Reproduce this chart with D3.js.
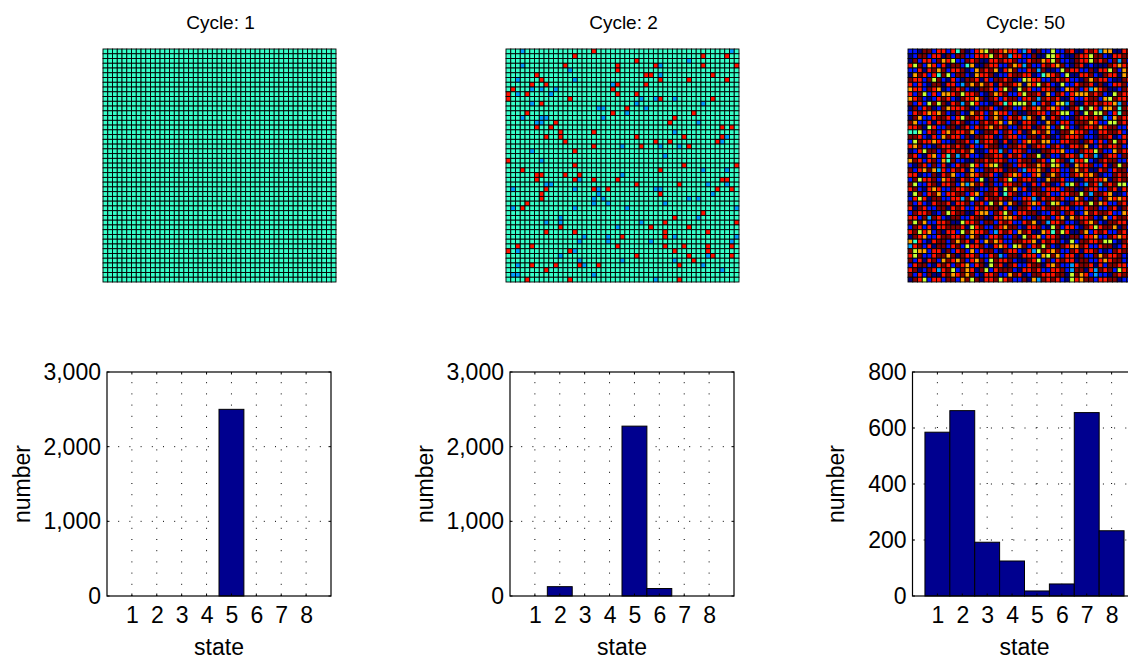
<!DOCTYPE html>
<html>
<head>
<meta charset="utf-8">
<script src="https://cdn.jsdelivr.net/npm/d3@7"></script>
<style>
  html, body { margin: 0; padding: 0; background: #fff; overflow: hidden; }
  text { font-family: "Liberation Sans", Arial, sans-serif; fill: #000; }
</style>
</head>
<body>
<svg id="chart" width="1128" height="657"></svg>
<script>
const states = [1, 2, 3, 4, 5, 6, 7, 8];
const cycles = [1, 2, 50];

// histogram counts for each cycle
const counts1 = [0, 0, 0, 0, 2500, 0, 0, 0];
const counts2 = [0, 125, 0, 0, 2275, 100, 0, 0];
const counts50 = [585, 662, 192, 125, 18, 43, 655, 233];

const yTicks1 = [0, 1000, 2000, 3000];
const yTicks2 = [0, 1000, 2000, 3000];
const yTicks50 = [0, 200, 400, 600, 800];

// state colours (jet, flipped)
const stateColors = ["#800000", "#ff1200", "#ffa300", "#c9ff36", "#36ffc9", "#00a0ff", "#0012ff", "#000080"];

const gridSize = 49;

// cycle 2: columns per row where the lattice has left state 5
const cycle2State2 = [
  [18], [14, 41, 46], [27], [12, 23, 31, 41, 48], [23], [6, 29, 30, 43], [7, 32, 38, 46], [5, 8, 23, 29],
  [1, 22], [0, 4, 23, 27], [0, 13, 32, 43], [7], [25], [4, 22, 39], [35], [10, 34],
  [6, 9, 45, 47], [11, 18], [8, 11, 27, 37, 45], [12, 31, 34, 44], [18, 28, 38], [14], [], [0],
  [14, 37, 48], [3, 32], [6, 7, 12, 15], [6, 14, 18, 23, 45, 46], [27, 36], [8, 18, 21, 44, 47], [7, 32], [7],
  [4], [3], [41], [35], [33, 48], [11, 30, 38], [8, 14, 33, 42], [24, 33], [], [2, 5, 23, 33, 37, 42, 47],
  [0, 13, 35, 42], [27, 38, 43, 47], [39], [5, 10, 15, 19, 36], [8], [], [4, 13, 36]
];
const cycle2State6 = [
  [3, 47], [], [38], [3, 32], [13], [32], [2, 14], [22],
  [5, 7, 10], [2, 9], [28, 31, 35], [5, 27, 41], [19, 20, 29], [25], [3, 7, 8, 20], [6, 7, 40],
  [], [35], [46], [45], [24, 32, 36], [5], [33], [7],
  [], [41, 46], [24], [15], [8, 9, 42, 46], [1, 14, 19, 31, 32], [19, 43], [18, 20, 38, 40],
  [18, 21, 33], [1, 14, 25, 48], [], [11, 40], [8, 11, 28], [23], [], [16, 21, 35, 48],
  [15, 21, 30, 47], [], [2, 14], [11, 42], [15, 24, 35], [2, 16, 41], [45], [1, 2, 18], [31]
];

// cycle 50: one string per row, one digit per cell
const cycle50Rows = [
  "7781172272 5187234112 3227628177 4771288212 633882117",
  "8711722817 1177222412 1622771884 4278812241 178221177",
  "8172271324 7712188221 2217721132 4177812241 217161772",
  "2417327281 1753881227 7132617721 2317812878 881232112",
  "7728213172 2187312138 2317721618 8741227718 224173172",
  "8312725147 1178322187 7211228753 2174882217 812283172",
  "1227141782 7811282711 2187432277 1212778131 227881212",
  "2727811822 7613131282 1123832412 7847721128 187221781",
  "3227123871 2178811272 4184127722 1873217263 218871227",
  "2714727332 1422178132 1772411283 7127233312 178412271",
  "3217872127 8122318127 2117221612 1288277211 734122178",
  "1727414182 1614277812 5244416721 7346188212 122361787",
  "8172187132 2218711278 1177212312 3278125142 733151228",
  "7212323178 1783127132 2718811227 1244718414 417251182",
  "8137721127 2411227131 7212631838 2177812212 167312218",
  "1377282171 2187712123 7318221783 1722711132 774412187",
  "2218427711 8127212312 1771228123 7142781221 321177282",
  "5547217231 2213781127 1272813213 7811322178 221127812",
  "1127827312 2718112287 1227711821 8712221778 112872117",
  "7412232778 1127612218 2817232133 7722118127 271412872",
  "2317781221 2182772118 7112281227 1278221387 212217781",
  "8724117122 1213887226 1722178811 2237781224 177312281",
  "1278237251 6127781122 8212711481 7712216216 812271127",
  "3127217351 7788112122 1772118127 4218622478 121177281",
  "7812717287 2114272341 8172211321 4371832217 728141127",
  "1723136272 1283771122 8117622318 2277131288 217211782",
  "2287718213 7713211278 1232772381 3177123231 877121228",
  "7142217321 8212748171 2471221783 1127788212 238121127",
  "1477218221 7363128177 2211782721 8726417612 612144778",
  "2178232771 2211877128 4137281172 2271188122 771282117",
  "8417213722 1172371128 5218772112 7722114161 123887212",
  "7242811772 2614782112 1177226821 2127731781 713232178",
  "1727821128 2217127413 7318123271 4378122141 327712881",
  "2812771182 1277212118 2781127721 1122877211 771281227",
  "7122187142 1188233712 4172211877 2171287312 112773218",
  "2271612781 1772118822 3321778121 7238312217 837211271",
  "1413772218 8422171172 1277213816 2217781231 781122877",
  "7127282211 1284217712 3117822178 4172278124 211381727",
  "2142371822 7413221762 1273128832 5142881372 127712811",
  "8123772112 2173187221 7718412372 2188117223 771232117",
  "3527821171 3128273132 7711223821 2178471122 144781227",
  "6217281172 1742217823 2743172141 7812331277 211872187",
  "1433722817 2173721178 1227826412 3177128221 787121182",
  "2417721131 8122177216 7118222734 1372281771 312217821",
  "1728217312 3172317412 2178812471 7212281177 232117882",
  "7211782127 1237218412 8127721182 3177621128 271122781",
  "2187126214 7132814721 1178221277 2217611826 121742117",
  "1727188213 2131782217 7312871122 2118413276 778121128",
  "8124722711 7314182214 2177183612 1278423117 221187712"
];

// turn the lists above into cell records
const rowIndex = d3.range(gridSize);

const cellsCycle1 = d3.cross(rowIndex, rowIndex, (r, c) => ({ r: r, c: c, s: 5 }));

const cellsCycle2 = d3.cross(rowIndex, rowIndex, (r, c) => {
  let s = 5;
  if (cycle2State2[r].includes(c)) s = 2;
  if (cycle2State6[r].includes(c)) s = 6;
  return { r: r, c: c, s: s };
});

const cellsCycle50 = [];
cycle50Rows.forEach((line, r) => {
  line.replace(/ /g, "").split("").forEach((ch, c) => {
    cellsCycle50.push({ r: r, c: c, s: +ch });
  });
});

const allCells = [cellsCycle1, cellsCycle2, cellsCycle50];
const allCounts = [counts1, counts2, counts50];
const allYTicks = [yTicks1, yTicks2, yTicks50];

const svg = d3.select("#chart");

// left edge of each lattice / each bar plot
const latticeLeft = [103, 506, 908];
const barLeft = [107, 510, 912.5];
const latticeSize = 233;
const latticeTop = 49;
const barTop = 372;
const barSize = 224;

const labelSize = 23;

cycles.forEach((cycle, i) => {

  // top row: the lattice
  const cellScale = d3.scaleBand()
    .domain(rowIndex)
    .range([0, latticeSize]);

  const lattice = svg.append("g")
    .attr("transform", `translate(${latticeLeft[i]}, ${latticeTop})`);

  lattice.selectAll("rect")
    .data(allCells[i])
    .enter()
    .append("rect")
    .attr("x", d => cellScale(d.c))
    .attr("y", d => cellScale(d.r))
    .attr("width", cellScale.bandwidth())
    .attr("height", cellScale.bandwidth())
    .attr("fill", d => stateColors[d.s - 1])
    .attr("stroke", "#000")
    .attr("stroke-width", 0.9);

  svg.append("text")
    .attr("x", latticeLeft[i] + latticeSize / 2 + 1)
    .attr("y", 29)
    .attr("text-anchor", "middle")
    .style("font-size", "19px")
    .text("Cycle: " + cycle);

  // bottom row: the histogram
  const xScale = d3.scaleLinear().domain([0, 9]).range([0, barSize]);
  const yScale = d3.scaleLinear()
    .domain([0, d3.max(allYTicks[i])])
    .range([barSize, 0]);

  const plot = svg.append("g")
    .attr("transform", `translate(${barLeft[i]}, ${barTop})`);

  // dotted grid
  plot.selectAll("line.vgrid")
    .data(states)
    .enter()
    .append("line")
    .attr("class", "vgrid")
    .attr("x1", d => xScale(d))
    .attr("x2", d => xScale(d))
    .attr("y1", barSize)
    .attr("y2", 0)
    .attr("stroke", "#000")
    .attr("stroke-width", 1)
    .attr("stroke-dasharray", "1 10.2");

  plot.selectAll("line.hgrid")
    .data(allYTicks[i].slice(1, -1))
    .enter()
    .append("line")
    .attr("class", "hgrid")
    .attr("x1", 0)
    .attr("x2", barSize)
    .attr("y1", d => yScale(d))
    .attr("y2", d => yScale(d))
    .attr("stroke", "#000")
    .attr("stroke-width", 1)
    .attr("stroke-dasharray", "1 10.2");

  // bars
  plot.selectAll("rect.bar")
    .data(states.filter((d, j) => allCounts[i][j] > 0))
    .enter()
    .append("rect")
    .attr("class", "bar")
    .attr("x", d => xScale(d - 0.5))
    .attr("y", d => yScale(allCounts[i][d - 1]))
    .attr("width", xScale(1) - xScale(0))
    .attr("height", d => barSize - yScale(allCounts[i][d - 1]))
    .attr("fill", "#00008f")
    .attr("stroke", "#000")
    .attr("stroke-width", 1);

  // axes
  const xAxis = d3.axisBottom(xScale).tickValues(states).tickSize(0).tickPadding(11);
  const yAxis = d3.axisLeft(yScale).tickValues(allYTicks[i]).tickSize(0).tickPadding(6);

  const xG = plot.append("g")
    .attr("transform", `translate(0, ${barSize})`)
    .call(xAxis);
  const yG = plot.append("g").call(yAxis);

  [xG, yG].forEach(g => {
    g.selectAll("text").style("font-size", labelSize + "px");
    g.select(".domain").remove();
  });

  // box and short inward ticks
  plot.append("rect")
    .attr("width", barSize)
    .attr("height", barSize)
    .attr("fill", "none")
    .attr("stroke", "#000")
    .attr("stroke-width", 1.2);

  states.forEach(d => {
    plot.append("line").attr("x1", xScale(d)).attr("x2", xScale(d)).attr("y1", barSize).attr("y2", barSize - 2.5).attr("stroke", "#000");
    plot.append("line").attr("x1", xScale(d)).attr("x2", xScale(d)).attr("y1", 0).attr("y2", 2.5).attr("stroke", "#000");
  });
  allYTicks[i].forEach(d => {
    plot.append("line").attr("x1", 0).attr("x2", 2.5).attr("y1", yScale(d)).attr("y2", yScale(d)).attr("stroke", "#000");
    plot.append("line").attr("x1", barSize).attr("x2", barSize - 2.5).attr("y1", yScale(d)).attr("y2", yScale(d)).attr("stroke", "#000");
  });

  plot.append("text")
    .attr("x", barSize / 2)
    .attr("y", 283 - 0)
    .attr("text-anchor", "middle")
    .style("font-size", labelSize + "px")
    .text("state");

  plot.append("text")
    .attr("transform", `translate(${i === 2 ? -69 : -77}, ${barSize / 2}) rotate(-90)`)
    .attr("text-anchor", "middle")
    .style("font-size", labelSize + "px")
    .text("number");
});
</script>
</body>
</html>
